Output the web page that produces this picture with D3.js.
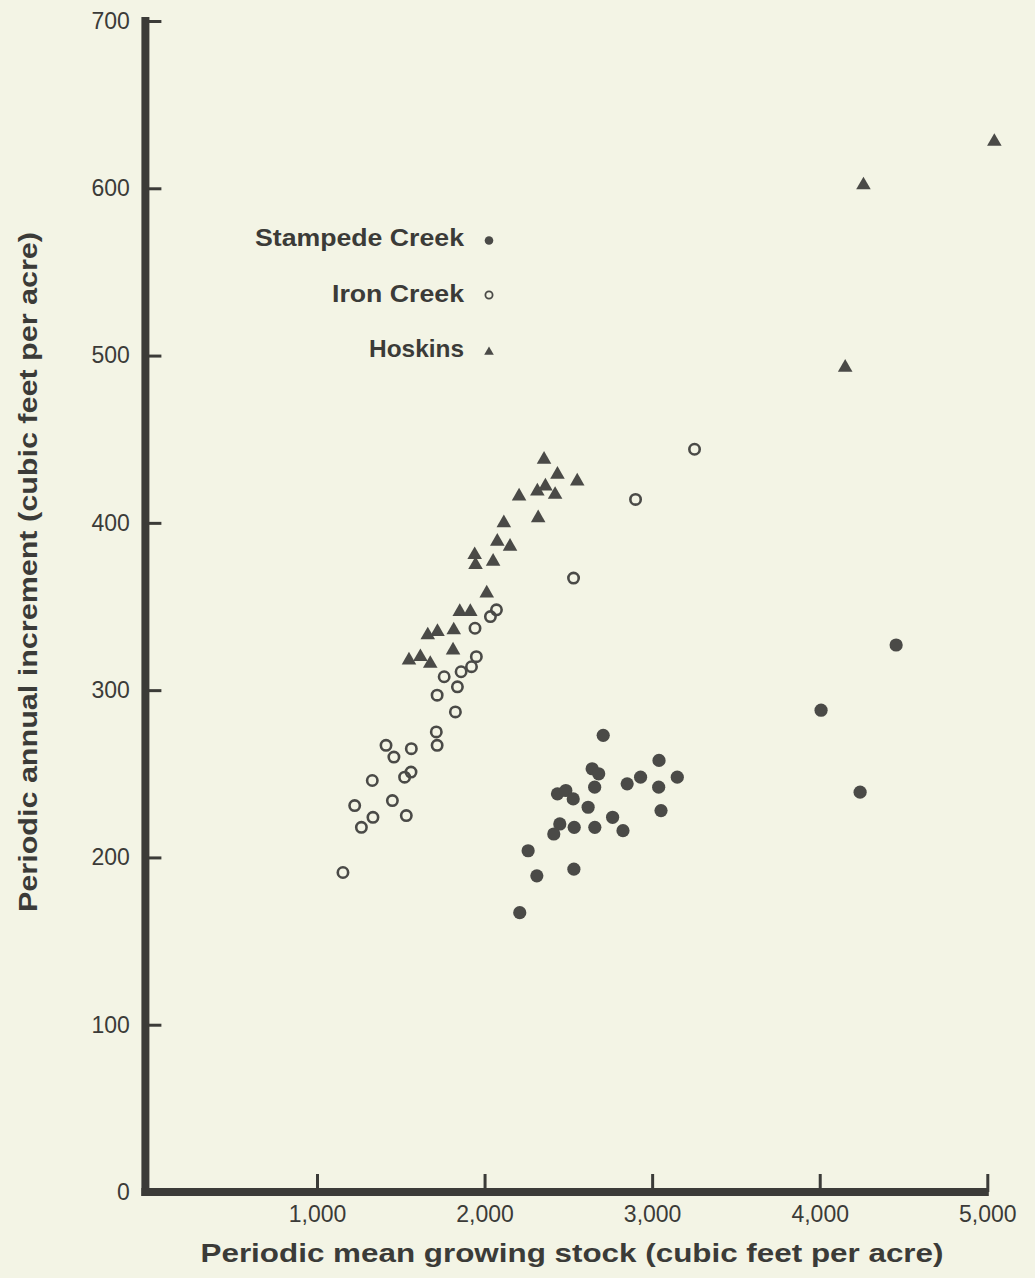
<!DOCTYPE html>
<html><head><meta charset="utf-8">
<script src="https://cdn.jsdelivr.net/npm/d3@7"></script>
<style>
body{margin:0;background:#f3f4e5}
svg{display:block;font-family:"Liberation Sans",Arial,Helvetica,sans-serif}
</style>
</head><body>
<svg id="c" width="1035" height="1278"></svg>
<script>
// ---- data ----
const stampedeCreek = [[2708,273],[3041,258],[2642,253],[2681,250],[2931,248],[3150,248],[2851,244],[2657,242],[3039,242],[2435,238],[2485,240],[2529,235],[2618,230],[3053,228],[2764,224],[2449,220],[2413,214],[2535,218],[2658,218],[2826,216],[2260,204],[2312,189],[2533,193],[2210,167],[4456,327],[4008,288],[4241,239]];
const ironCreek = [[2531,367],[2071,348],[2035,344],[1943,337],[1951,320],[1922,314],[1860,311],[1759,308],[1838,302],[1717,297],[1826,287],[1712,275],[1717,267],[1412,267],[1563,265],[1459,260],[1561,251],[1523,248],[1330,246],[1225,231],[1450,234],[1334,224],[1265,218],[1533,225],[1155,191],[3253,444],[2901,414]];
const hoskins = [[2355,437],[2435,428],[2553,424],[2363,421],[2315,418],[2206,415],[2421,416],[2320,402],[2115,399],[2076,388],[2152,385],[1941,380],[1946,374],[2051,376],[2013,357],[1852,346],[1915,346],[1661,332],[1719,334],[1816,335],[1812,323],[1549,317],[1617,319],[1676,315],[5042,627],[4261,601],[4152,492]];
const seriesNames = ["Stampede Creek","Iron Creek","Hoskins"];
const xTicks = [1000,2000,3000,4000,5000];
const yTicks = [0,100,200,300,400,500,600,700];
const xTitle = "Periodic mean growing stock (cubic feet per acre)";
const yTitle = "Periodic annual increment (cubic feet per acre)";

// ---- drawing ----
const ink = "#3b3b38", markInk = "#4a4a47";
const svg = d3.select("#c");
const x = d3.scaleLinear().domain([0,5000]).range([149.4,987.3]);
const y = d3.scaleLinear().domain([0,700]).range([1192,21]);

// y axis
const gy = svg.append("g").attr("transform",`translate(${x(0)-4},0)`)
  .call(d3.axisLeft(y).tickValues(yTicks).tickSizeInner(-16).tickSizeOuter(0).tickPadding(15.5).tickFormat(d3.format("d")));
gy.select(".domain").remove();
gy.selectAll(".tick line").attr("stroke",ink).attr("stroke-width",3);
gy.selectAll(".tick text").attr("fill",ink).style("font-size","23px").attr("font-family",null);

// x axis
const gx = svg.append("g").attr("transform",`translate(0,${y(0)})`)
  .call(d3.axisBottom(x).tickValues(xTicks).tickSizeInner(-18).tickSizeOuter(0).tickPadding(13.5).tickFormat(d3.format(",")));
gx.select(".domain").remove();
gx.selectAll(".tick line").attr("stroke",ink).attr("stroke-width",3);
gx.selectAll(".tick text").attr("fill",ink).style("font-size","23px").attr("font-family",null);

// axis bars
svg.append("line").attr("x1",x(0)-4).attr("x2",x(0)-4).attr("y1",y(700)-4).attr("y2",y(0)+4)
  .attr("stroke",ink).attr("stroke-width",8);
svg.append("line").attr("x1",x(0)-8).attr("x2",x(5000)+1.5).attr("y1",y(0)).attr("y2",y(0))
  .attr("stroke",ink).attr("stroke-width",8);

// titles
svg.append("text").attr("x",572).attr("y",1262).attr("text-anchor","middle")
  .attr("font-weight","bold").attr("font-size",26).attr("fill",ink)
  .attr("textLength",743).attr("lengthAdjust","spacingAndGlyphs").text(xTitle);
svg.append("text").attr("transform","translate(37,572) rotate(-90)").attr("text-anchor","middle")
  .attr("font-weight","bold").attr("font-size",26).attr("fill",ink)
  .attr("textLength",680).attr("lengthAdjust","spacingAndGlyphs").text(yTitle);

// points
const plot = svg.append("g");
plot.selectAll(".s").data(stampedeCreek).join("circle").attr("class","s")
  .attr("cx",d=>x(d[0])).attr("cy",d=>y(d[1])).attr("r",6.6).attr("fill",markInk);
plot.selectAll(".i").data(ironCreek).join("circle").attr("class","i")
  .attr("cx",d=>x(d[0])).attr("cy",d=>y(d[1])).attr("r",5.2)
  .attr("fill","none").attr("stroke",markInk).attr("stroke-width",2.6);
const tri = d3.symbol().type(d3.symbolTriangle).size(92);
plot.selectAll(".h").data(hoskins).join("path").attr("class","h")
  .attr("transform",d=>`translate(${x(d[0])},${y(d[1])-1.5})`).attr("d",tri).attr("fill",markInk);

// legend
const legY = [246,302,357];
const legW = [209,132,95];
const lg = svg.append("g");
seriesNames.forEach((n,i)=>{
  lg.append("text").attr("x",464).attr("y",legY[i]).attr("text-anchor","end")
    .attr("font-weight","bold").attr("font-size",24).attr("fill",ink)
    .attr("textLength",legW[i]).attr("lengthAdjust","spacingAndGlyphs").text(n);
});
lg.append("circle").attr("cx",489).attr("cy",240.5).attr("r",4.3).attr("fill",markInk);
lg.append("circle").attr("cx",489).attr("cy",295).attr("r",3.6).attr("fill","none").attr("stroke",markInk).attr("stroke-width",1.8);
lg.append("path").attr("transform","translate(489,352)").attr("d",d3.symbol().type(d3.symbolTriangle).size(40)).attr("fill",markInk);
</script>
</body></html>
